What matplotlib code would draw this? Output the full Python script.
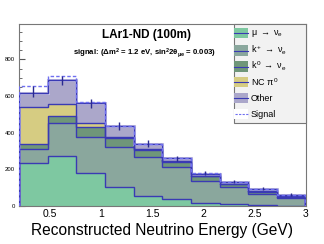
import numpy as np
import matplotlib
matplotlib.use("Agg")
import matplotlib.pyplot as plt
from matplotlib.patches import Rectangle
from matplotlib.lines import Line2D

plt.rcParams['font.family'] = ['Liberation Sans', 'DejaVu Sans']
plt.rcParams['mathtext.fontset'] = 'custom'
plt.rcParams['mathtext.rm'] = 'Liberation Sans'
plt.rcParams['mathtext.it'] = 'Liberation Sans'
plt.rcParams['mathtext.bf'] = 'Liberation Sans:bold'

# ---- data ----
bin_edges = [0.2, 0.48, 0.76, 1.04, 1.32, 1.60, 1.88, 2.16, 2.44, 2.72, 3.0]
mu_nue    = [236, 273, 178, 102, 55, 36, 19, 9, 4, 2]
kp_nue    = [77, 178, 200, 218, 210, 175, 119, 93, 61, 40]
k0_nue    = [25, 40, 51, 49, 39, 27, 26, 16, 13, 9]
nc_pi0    = [200, 65, 22, 9, 7, 6, 2, 2, 2, 1]
other     = [77, 131, 109, 57, 25, 16, 11, 10, 12, 8]
signal    = [37, 24, 5, 3, 2, 2, 1, 1, 1, 1]
data_vals = [624, 685, 558, 437, 341, 260, 180, 132, 94, 63]
data_errs = [30, 26, 24, 20, 17, 14, 11, 9, 8, 7]

labels = [r"$\mu\ \rightarrow\ \nu_{e}$", r"$k^{+}\ \rightarrow\ \nu_{e}$",
          r"$k^{0}\ \rightarrow\ \nu_{e}$", r"NC $\pi^{0}$", "Other"]
colors = ['#7ec8a1', '#8aa79d', '#6f9679', '#d6cc82', '#aba7ca']
line_c = '#3a3ab4'
sig_c = '#6f6ff0'

W, H = 324, 244
edges = np.array(bin_edges)
comps = [np.array(c, float) for c in (mu_nue, kp_nue, k0_nue, nc_pi0, other)]

fig = plt.figure(figsize=(W / 100, H / 100), dpi=100)
ax = fig.add_axes([19 / W, 1 - 206 / H, (305.5 - 19) / W, (206 - 24) / H])

base = np.zeros(len(edges) - 1)
tops = []
for c, col in zip(comps, colors):
    top = base + c
    ax.stairs(top, edges, baseline=base, fill=True, color=col, zorder=2)
    tops.append(top)
    base = top
# light band above "Other"
ax.stairs(tops[-1], edges, color='#c2bfe2', lw=2.2, zorder=3)
for top in tops:
    ax.stairs(top, edges, baseline=0, color=line_c, lw=1.0, zorder=4)

sig_top = tops[-1] + np.array(signal, float)
ax.stairs(sig_top, edges, color=sig_c, lw=1.0, ls=(0, (2.5, 1.5)), zorder=5)

centers = 0.5 * (edges[:-1] + edges[1:])
ax.errorbar(centers, data_vals, yerr=data_errs, fmt='none', ecolor='#2a2a90',
            elinewidth=1.0, zorder=6)

ax.set_xlim(0.2, 3.0)
ax.set_ylim(0, 993)
ax.set_xticks([0.5, 1, 1.5, 2, 2.5, 3])
ax.set_xticklabels(['0.5', '1', '1.5', '2', '2.5', '3'])
ax.set_xticks(np.arange(0.2, 3.01, 0.1), minor=True)
ax.set_yticks([0, 200, 400, 600, 800])
ax.set_yticks(np.arange(0, 990, 50), minor=True)
ax.tick_params(axis='x', which='major', direction='in', length=4, labelsize=7.5,
               pad=2, color='#555555')
ax.tick_params(axis='x', which='minor', direction='in', length=2, color='#555555')
ax.tick_params(axis='y', which='major', direction='in', length=4, labelsize=4.3,
               pad=3, color='#555555')
ax.tick_params(axis='y', which='minor', direction='in', length=2, color='#555555')
for s in ('left', 'right', 'bottom', 'top'):
    ax.spines[s].set_color('#777777')
    ax.spines[s].set_linewidth(0.8)

ax.set_xlabel('Reconstructed Neutrino Energy (GeV)', fontsize=11.2, labelpad=3)

fig.text(146 / W, 1 - 35 / H, 'LAr1-ND (100m)', fontsize=8.5, fontweight='bold',
         ha='center', va='center')
fig.text(145 / W, 1 - 53 / H,
         r'signal: ($\mathbf{\Delta m^{2}}$ = 1.2 eV, sin$^{\mathbf{2}}$2$\mathbf{\theta_{\mu e}}$ = 0.003)',
         fontsize=5.6, fontweight='bold', ha='center', va='center')

# ---- legend drawn manually in pixel coordinates ----
def fx(x):
    return x / W

def fy(y):
    return 1 - y / H

fig.patches.append(Rectangle((fx(233.5), fy(123)), (305.5 - 233.5) / W, (123 - 24) / H,
                             transform=fig.transFigure, facecolor='#f2f2f2',
                             edgecolor='#777777', lw=0.8, zorder=10))
rows = [33.3, 50.5, 66.5, 82.0, 98.3, 114.3]
for i, (lab, col) in enumerate(zip(labels + ['Signal'], colors + ['white'])):
    yc = rows[i]
    fig.patches.append(Rectangle((fx(234.3), fy(yc + 5)), 14 / W, 10 / H,
                                 transform=fig.transFigure, facecolor=col,
                                 edgecolor='none', zorder=11))
    if i < 5:
        fig.lines.append(Line2D([fx(234.3), fx(248.3)], [fy(yc), fy(yc)],
                                transform=fig.transFigure, color=line_c, lw=0.8,
                                zorder=12))
    else:
        fig.lines.append(Line2D([fx(235), fx(248.3)], [fy(yc), fy(yc)],
                                transform=fig.transFigure, color=sig_c, lw=0.8,
                                ls=(0, (2, 1.2)), zorder=12))
    fig.text(fx(251), fy(yc), lab, fontsize=6.5, ha='left', va='center', zorder=13)

fig.savefig('out.png', dpi=100)
